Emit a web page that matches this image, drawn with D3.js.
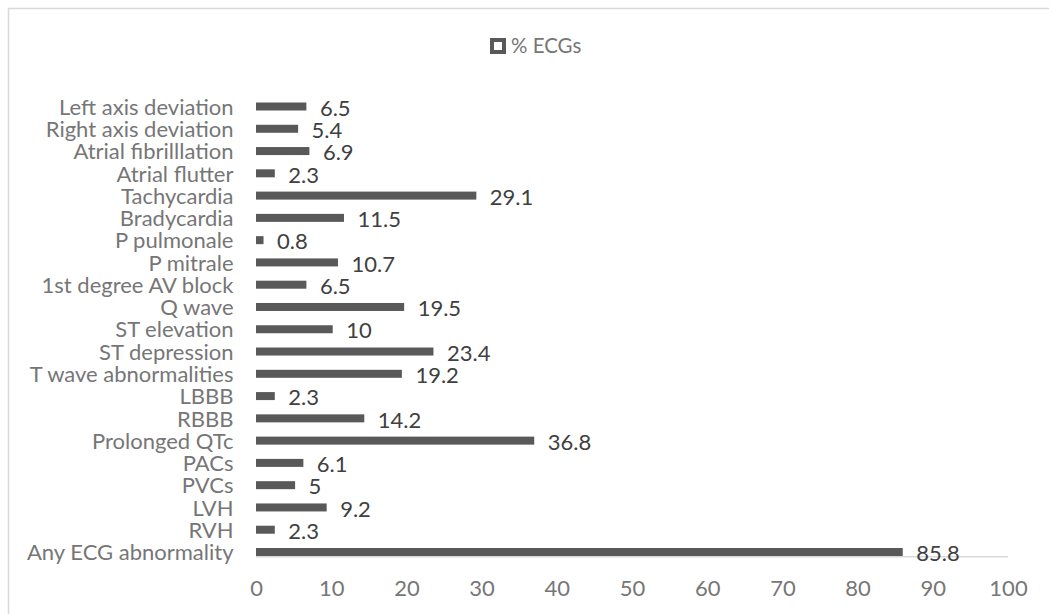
<!DOCTYPE html>
<html>
<head>
<meta charset="utf-8">
<script src="https://cdn.jsdelivr.net/npm/d3@7"></script>
<style>
  html, body { margin: 0; padding: 0; background: #fff; }
  svg { display: block; }
  text { font-family: Lato, "Open Sans", sans-serif; }
</style>
</head>
<body>
<div id="chart"></div>
<script>
// Share of ECGs showing each finding (%), listed top to bottom
const categories = [
  "Left axis deviation", "Right axis deviation", "Atrial fibrilllation", "Atrial flutter",
  "Tachycardia", "Bradycardia", "P pulmonale", "P mitrale", "1st degree AV block",
  "Q wave", "ST elevation", "ST depression", "T wave abnormalities", "LBBB", "RBBB",
  "Prolonged QTc", "PACs", "PVCs", "LVH", "RVH", "Any ECG abnormality"
];
const pctECGs = [
  6.5, 5.4, 6.9, 2.3,
  29.1, 11.5, 0.8, 10.7, 6.5,
  19.5, 10, 23.4, 19.2, 2.3, 14.2,
  36.8, 6.1, 5, 9.2, 2.3, 85.8
];
const xTicks = [0, 10, 20, 30, 40, 50, 60, 70, 80, 90, 100];
const seriesName = "% ECGs";

const W = 1049, H = 614;
const plot = { left: 256, right: 1008, top: 106.5, bottom: 552, axisY: 556.7 };
const barH = 8;
const fontSize = 22;
const axisTextColor = "#767676";

const svg = d3.select("#chart").append("svg").attr("width", W).attr("height", H);

// chart frame
svg.append("rect")
  .attr("x", 8.5).attr("y", 8.5)
  .attr("width", W + 20).attr("height", H + 20)
  .attr("fill", "#fff").attr("stroke", "#d9d9d9").attr("stroke-width", 1.5);

const x = d3.scaleLinear().domain([0, 100]).range([plot.left, plot.right]);
const y = d3.scalePoint().domain(categories).range([plot.top, plot.bottom]);

const data = categories.map((c, i) => ({ cat: c, v: pctECGs[i] }));

// value axis baseline
svg.append("line")
  .attr("x1", x(0)).attr("x2", x(100))
  .attr("y1", plot.axisY).attr("y2", plot.axisY)
  .attr("stroke", "#d9d9d9").attr("stroke-width", 1.5);

// bars
svg.append("g").selectAll("rect").data(data).join("rect")
  .attr("x", x(0))
  .attr("y", d => y(d.cat) - barH / 2)
  .attr("width", d => x(d.v) - x(0) + 1.5)
  .attr("height", barH)
  .attr("fill", "#595959");

// data labels
svg.append("g").selectAll("text").data(data).join("text")
  .attr("x", d => x(d.v) + 15)
  .attr("y", d => y(d.cat) + 1.5)
  .attr("dy", "0.35em")
  .attr("font-size", fontSize)
  .attr("fill", "#404040")
  .text(d => d.v);

// category labels
const yAxis = d3.axisLeft(y).tickSize(0).tickPadding(0);
const gy = svg.append("g").attr("transform", "translate(233.5,0)").call(yAxis);
gy.select(".domain").remove();
gy.selectAll("text")
  .attr("font-size", fontSize).attr("fill", axisTextColor)
  .attr("font-family", "Lato, 'Open Sans', sans-serif")
  .attr("dy", "0.35em");

// value axis tick labels
const xAxis = d3.axisBottom(x).tickValues(xTicks).tickSize(0).tickPadding(0);
const gx = svg.append("g").attr("transform", "translate(0,588)").call(xAxis);
gx.select(".domain").remove();
gx.selectAll("text")
  .attr("font-size", fontSize).attr("fill", axisTextColor)
  .attr("font-family", "Lato, 'Open Sans', sans-serif")
  .attr("y", 0).attr("dy", "0.35em");

// legend
const lg = svg.append("g");
lg.append("rect")
  .attr("x", 492).attr("y", 40).attr("width", 12).attr("height", 12)
  .attr("fill", "#fff").attr("stroke", "#595959").attr("stroke-width", 4);
lg.append("text")
  .attr("x", 511).attr("y", 46).attr("dy", "0.35em")
  .attr("font-size", 20.5).attr("fill", axisTextColor)
  .text(seriesName);
</script>
</body>
</html>
